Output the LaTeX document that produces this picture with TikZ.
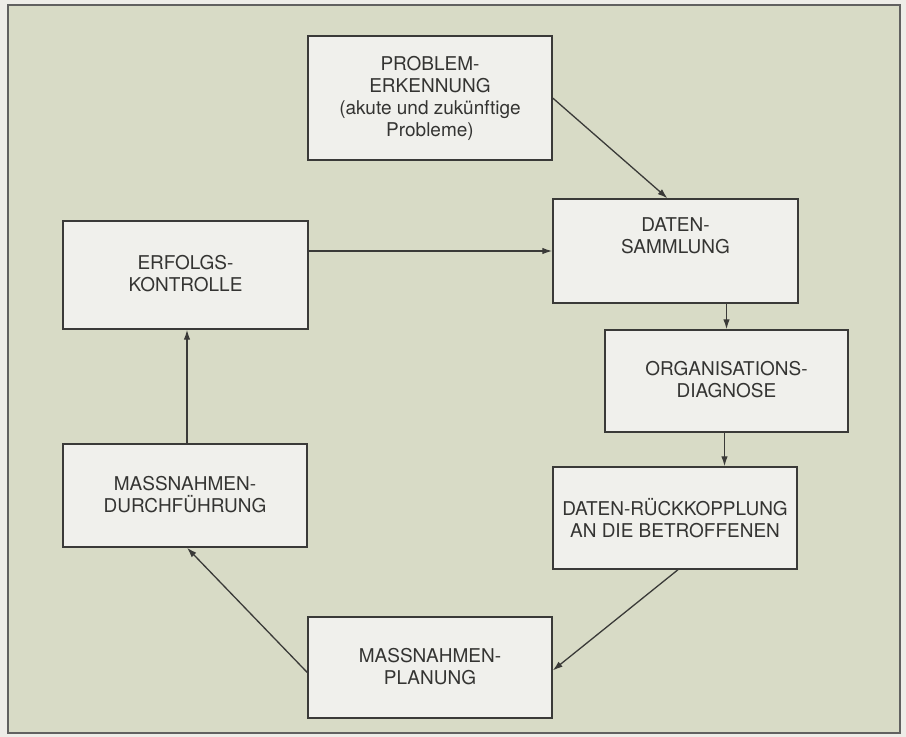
\documentclass[tikz,border=0pt]{standalone}
\usepackage{fontspec}
\setmainfont{TeX Gyre Heros}
\usepackage{xcolor}
\usepackage{tikz}
\usetikzlibrary{arrows.meta, positioning}

\definecolor{paper}{HTML}{EEEDE8}
\definecolor{sage}{HTML}{D8DBC6}
\definecolor{boxfill}{HTML}{F0F0EC}
\definecolor{ink}{HTML}{3A3A38}

\begin{document}
\begin{tikzpicture}[
        x=1pt, y=-1pt,
        box/.style={rectangle, draw=ink, fill=boxfill, line width=1.4pt,
            minimum width=244pt, minimum height=102pt, align=center,
            text=ink!90!black, font=\fontsize{19}{22}\selectfont, inner sep=2pt},
        arrow/.style={-{Latex[length=10pt, width=6.5pt]}, draw=ink, line width=1.3pt}
    ]
        \useasboundingbox (0,0) rectangle (906,737);
        \fill[paper] (0,0) rectangle (906,737);
        \draw[fill=sage, draw=ink!80, line width=1.5pt] (8,5) rectangle (900,733);

        \node[box, minimum height=124pt] (PE) at (430,98) {PROBLEM-\\ERKENNUNG\\(akute und zukünftige\\Probleme)};
        \node[box, minimum width=245pt, minimum height=104pt] (DS) at (675.5,251) {DATEN-\\SAMMLUNG\\[8pt]};
        \node[box, minimum width=245pt, minimum height=108pt] (EK) at (185.5,275) {\\[-10pt]ERFOLGS-\\KONTROLLE};
        \node[box, minimum width=243pt] (OD) at (726.5,381) {\\[-10pt]ORGANISATIONS-\\DIAGNOSE};
        \node[box] (DR) at (675,518) {DATEN-RÜCKKOPPLUNG\\AN DIE BETROFFENEN};
        \node[box, minimum height=103pt] (MD) at (185,495.5) {\\[-10pt]MASSNAHMEN-\\DURCHFÜHRUNG};
        \node[box, minimum height=101pt] (MP) at (430,667.5) {\\[-10pt]MASSNAHMEN-\\PLANUNG};

        \draw[arrow] (PE.east) -- ([xshift=-8pt]DS.north);
        \draw[arrow] (DS.west -| EK.east) -- (DS.west);
        \draw[arrow] (OD.north |- DS.south) -- (OD.north);
        \draw[arrow] ([xshift=-2pt]OD.south) -- ([xshift=-2pt]OD.south |- DR.north);
        \draw[arrow] ([xshift=3pt]DR.south) -- ([yshift=-3pt]MP.east);
        \draw[arrow] ([yshift=-5pt]MP.west) -- ([xshift=2pt]MD.south);
        \draw[arrow] ([xshift=2pt]MD.north) -- ([xshift=2pt]MD.north |- EK.south);
    \end{tikzpicture}
\end{document}
